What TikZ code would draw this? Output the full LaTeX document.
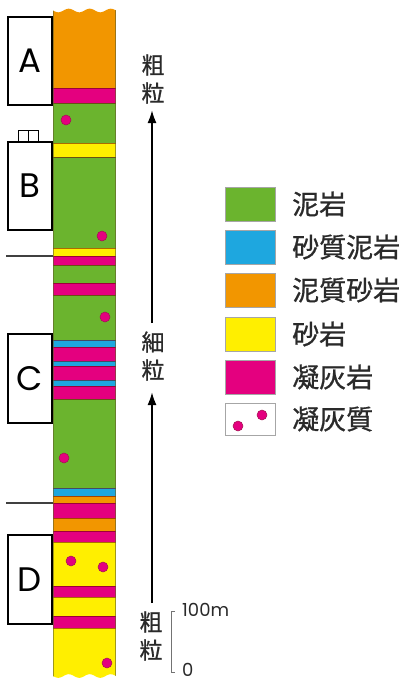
\documentclass[tikz,border=0pt]{standalone}
\usepackage{fontspec}
\newfontfamily\cjk[FakeBold=0.8]{Noto Sans CJK JP}
\newfontfamily\pop{Poppins}
\usetikzlibrary{arrows.meta}
\definecolor{mud}{HTML}{6BB42E}
\definecolor{sdmud}{HTML}{1EA7DF}
\definecolor{mdsand}{HTML}{F29600}
\definecolor{sand}{HTML}{FFEF00}
\definecolor{tuff}{HTML}{E4007F}
\definecolor{tuffedge}{HTML}{A0144E}
\definecolor{txt}{HTML}{2A2A2A}
\begin{document}
\begin{tikzpicture}[x=1pt,y=-1pt,
  bandline/.style={draw=black!60!red,opacity=0.55,line width=0.8pt},
  letterbox/.style={draw=black,line width=1.8pt,fill=white,minimum width=44pt,inner sep=0pt,font=\pop\fontsize{34}{34}\selectfont},
  tuffdot/.style={fill=tuff,draw=tuffedge,line width=0.5pt},
  grain/.style={font=\cjk\fontsize{23}{28}\selectfont,align=center,text=txt,inner sep=0pt},
  legbox/.style={draw=black!35,line width=0.6pt,minimum width=50pt,minimum height=34pt,inner sep=0pt},
  legtext/.style={font=\cjk\fontsize{27}{27}\selectfont,text=txt,anchor=west,inner sep=0pt},
  upar/.style={line width=2pt,-{Latex[length=13pt,width=9pt]}},
  scaletxt/.style={font=\pop\fontsize{18}{18}\selectfont,text=txt,anchor=west,inner sep=0pt}]
\useasboundingbox (0,0) rectangle (406,686);
\fill[white] (0,0) rectangle (406,686);
% column
\begin{scope}
\clip plot[domain=53:116,samples=50] (\x,{10.5+1.8*sin((\x-53)/21*360)}) -- plot[domain=116:53,samples=50] (\x,{676+1.8*sin((\x-53)/21*360)}) -- cycle;
\foreach \a/\b/\c in {0/88/mdsand,88/103/tuff,103/143/mud,143/157/sand,157/248/mud,248/256/sand,256/265/tuff,265/283/mud,283/295/tuff,295/340/mud,340/347/sdmud,347/361/tuff,361/366/sdmud,366/380/tuff,380/386/sdmud,386/399/tuff,399/488/mud,488/496/sdmud,496/503/mdsand,503/518/tuff,518/531/mdsand,531/542/tuff,542/586/sand,586/597/tuff,597/616/sand,616/628/tuff,628/686/sand}
  {\fill[\c] (53,\a) rectangle (116,\b);}
\foreach \y in {88,103,143,157,248,256,265,283,295,340,347,361,366,380,386,399,488,496,503,518,531,542,586,597,616,628}
  {\draw[bandline] (53,\y) -- (116,\y);}
\draw[draw=black!40!olive,opacity=0.6,line width=1pt] (53.5,0) -- (53.5,686) (115.5,0) -- (115.5,686);
\end{scope}
% tuff dots in column
\draw[tuffdot] (66,120) circle (5) (102,236) circle (5) (105,317) circle (5) (64,458) circle (5) (71,561) circle (5) (103,567) circle (5) (107,663) circle (5);
% horizontal marker lines
\coordinate (h1a) at (6,256); \coordinate (h1b) at (53,256);
\coordinate (h2a) at (6,503); \coordinate (h2b) at (53,503);
\draw[black!75,line width=1.5pt] (h1a) -- (h1b) (h2a) -- (h2b);
% small glyph remnant above B
\draw[black,line width=1pt] (18,130) rectangle (38,141) (28,130) -- (28,141);
% letter boxes
\node[letterbox,minimum height=88pt] (A) at (30,61) {A};
\node[letterbox,minimum height=88pt] (B) at (30,186) {B};
\node[letterbox,minimum height=89pt] (C) at (30,378.5) {C};
\node[letterbox,minimum height=89pt] (D) at (30,579.5) {D};
% grain arrows
\node[grain] (g1) at (153,79) {粗\\粒};
\node[grain] (g2) at (153,356) {細\\粒};
\node[grain] (g3) at (151,636) {粗\\粒};
\coordinate (a1s) at (152,323); \coordinate (a1e) at (152,110);
\coordinate (a2s) at (152,603); \coordinate (a2e) at (152,392);
\draw[upar] (a1s) -- (a1e);
\draw[upar] (a2s) -- (a2e);
% scale
\coordinate (s1) at (175,611); \coordinate (s2) at (171,611); \coordinate (s3) at (171,672); \coordinate (s4) at (175,672);
\draw[black!55,line width=0.8pt] (s1) -- (s2) -- (s3) -- (s4);
\node[scaletxt] (t100) at (182,610) {100m};
\node[scaletxt] (t0) at (182,670) {0};
% legend
\node[legbox,fill=mud] (l1) at (250,204) {};
\node[legbox,fill=sdmud] (l2) at (250,247) {};
\node[legbox,fill=mdsand] (l3) at (250,290) {};
\node[legbox,fill=sand] (l4) at (250,334) {};
\node[legbox,fill=tuff] (l5) at (250,377) {};
\node[legbox,fill=white,minimum height=32pt] (l6) at (250,419) {};
\draw[tuffdot] (238,426) circle (5) (262,415) circle (5);
\node[legtext] (e1) at (292,204) {泥岩};
\node[legtext] (e2) at (292,247) {砂質泥岩};
\node[legtext] (e3) at (292,290) {泥質砂岩};
\node[legtext] (e4) at (292,334) {砂岩};
\node[legtext] (e5) at (292,377) {凝灰岩};
\node[legtext] (e6) at (292,419) {凝灰質};
\end{tikzpicture}
\end{document}
